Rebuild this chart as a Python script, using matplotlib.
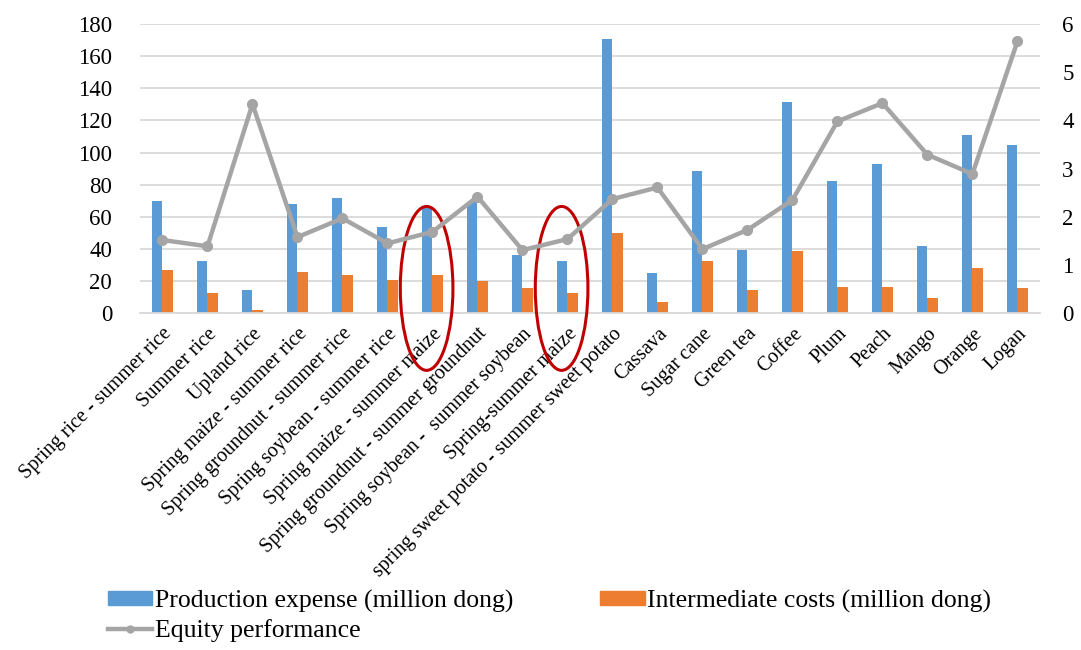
import numpy as np
import matplotlib
matplotlib.use("Agg")
from matplotlib import pyplot as plt
from matplotlib.patches import Ellipse, Patch
from matplotlib.lines import Line2D

crops = ["Spring rice - summer rice", "Summer rice", "Upland rice",
         "Spring maize - summer rice", "Spring groundnut - summer rice",
         "Spring soybean - summer rice", "Spring maize - summer maize",
         "Spring groundnut - summer groundnut", "Spring soybean -  summer soybean",
         "Spring-summer maize", "spring sweet potato - summer sweet potato",
         "Cassava", "Sugar cane", "Green tea", "Coffee", "Plum", "Peach",
         "Mango", "Orange", "Logan"]
production = [70, 32.5, 14.5, 68, 72, 53.5, 65.5, 69.5, 36.5, 32.5,
              170.5, 25, 88.5, 39.5, 131.5, 82.5, 93, 42, 111, 104.5]
intermediate = [27, 12.5, 2, 26, 24, 21, 24, 20, 15.5, 12.5,
                50, 7, 32.5, 14.5, 38.5, 16.5, 16.5, 9.5, 28, 15.5]
equity = [1.52, 1.39, 4.34, 1.58, 1.97, 1.45, 1.69, 2.42, 1.31, 1.54,
          2.37, 2.61, 1.33, 1.73, 2.35, 3.98, 4.36, 3.29, 2.89, 5.64]
circled = ["Spring maize - summer maize", "Spring-summer maize"]

blue = "#5B9BD5"
orange = "#ED7D31"
grey = "#A5A5A5"
serif = ["Liberation Serif", "DejaVu Serif"]

fig = plt.figure(figsize=(10.81, 6.5), dpi=100)
ax = fig.add_axes([0.1295, 0.518, 0.8325, 0.445])
x = np.arange(len(crops))
w = 0.235

ax.bar(x - w / 2, production, w, color=blue, zorder=2)
ax.bar(x + w / 2, intermediate, w, color=orange, zorder=2)
ax.set_ylim(0, 180)
ax.set_yticks(range(0, 181, 20))
ax.set_xlim(-0.5, len(crops) - 0.5)
ax.grid(axis="y", color="#D9D9D9", linewidth=1.3, zorder=0)
ax.set_axisbelow(True)
for s in ["top", "right", "left"]:
    ax.spines[s].set_visible(False)
ax.spines["bottom"].set_color("#D9D9D9")
ax.spines["bottom"].set_linewidth(1.3)
ax.tick_params(length=0)
ax.set_xticks(x)
ax.set_xticklabels(crops, rotation=45, ha="right", va="top",
                   rotation_mode="anchor", fontsize=14.5, family=serif)
for lab in ax.get_yticklabels():
    lab.set_family(serif)
    lab.set_fontsize(16.5)
ax.tick_params(axis="y", pad=20)
ax.tick_params(axis="x", pad=8)

ax2 = ax.twinx()
ax2.plot(x, equity, color=grey, linewidth=3.2, marker="o", markersize=7, zorder=3)
ax2.set_ylim(0, 6)
ax2.set_yticks(range(0, 7))
for s in ax2.spines.values():
    s.set_visible(False)
ax2.tick_params(length=0, pad=16)
for lab in ax2.get_yticklabels():
    lab.set_family(serif)
    lab.set_fontsize(16.5)

# red rings around the two maize rotations
for name in circled:
    i = crops.index(name)
    ax.add_patch(Ellipse((i - 0.13, 15.5), 1.17, 102, fill=False,
                         edgecolor="#C00000", linewidth=2.2, clip_on=False, zorder=5))

handles = [Patch(color=blue), Line2D([], [], color=grey, linewidth=3.2, marker="o", markersize=5),
           Patch(color=orange)]
labels = ["Production expense (million dong)", "Equity performance",
          "Intermediate costs (million dong)"]
fig.legend(handles, labels, ncol=2, loc="upper left", bbox_to_anchor=(0.0999, 0.093),
           bbox_transform=fig.transFigure, frameon=False, borderpad=0, borderaxespad=0,
           prop={"family": serif, "size": 18.5}, handlelength=1.72, handleheight=0.45,
           handletextpad=0.1, columnspacing=3.4, labelspacing=0.25)

fig.savefig("out.png", dpi=100)
